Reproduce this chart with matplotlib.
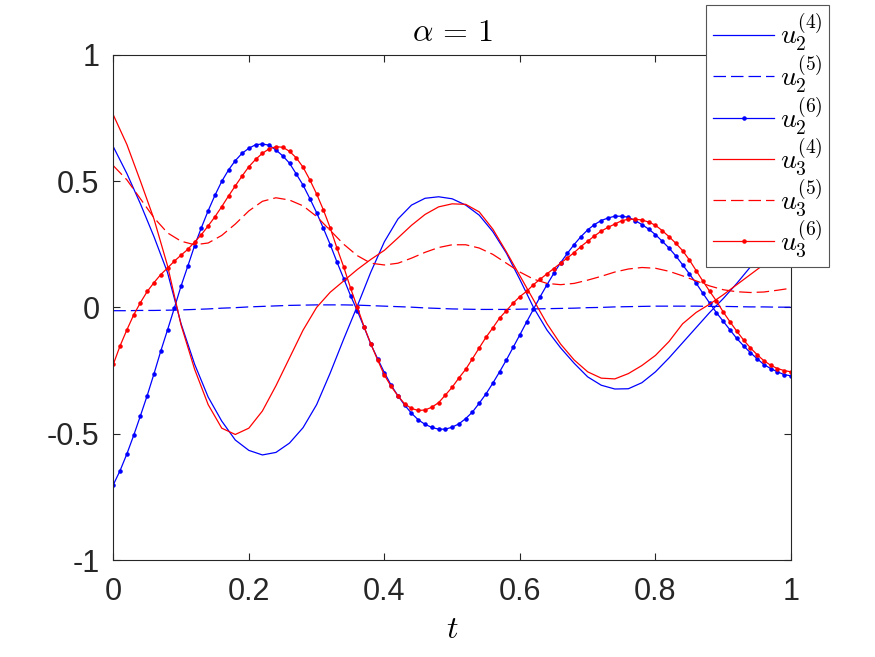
import numpy as np
import matplotlib
matplotlib.use('Agg')
import matplotlib.pyplot as plt

plt.rcParams['font.family'] = ['Liberation Sans', 'DejaVu Sans']
plt.rcParams['mathtext.fontset'] = 'cm'
plt.rcParams['axes.unicode_minus'] = False

# coarse grid for the plain curves, fine grid for the marked ones
t_coarse = np.linspace(0, 1, 51)
t_fine = np.linspace(0, 1, 101)

u2_4 = [0.636, 0.53, 0.41, 0.28, 0.138, -0.065, -0.225, -0.355, -0.45, -0.525,
        -0.566, -0.584, -0.574, -0.537, -0.476, -0.385, -0.26, -0.125, 0.005, 0.14,
        0.26, 0.35, 0.405, 0.432, 0.438, 0.430, 0.405, 0.365, 0.30, 0.215,
        0.11, 0.0, -0.09, -0.16, -0.221, -0.275, -0.308, -0.323, -0.322, -0.298,
        -0.255, -0.20, -0.14, -0.08, -0.02, 0.035, 0.095, 0.16, 0.22, 0.27,
        0.31]
u2_5 = [-0.013, -0.013, -0.012, -0.012, -0.011, -0.010, -0.008, -0.006, -0.003, -0.001,
        0.002, 0.004, 0.006, 0.008, 0.009, 0.010, 0.010, 0.010, 0.009, 0.007,
        0.005, 0.003, 0.001, -0.002, -0.004, -0.006, -0.007, -0.008, -0.008, -0.008,
        -0.007, -0.006, -0.005, -0.004, -0.003, -0.001, 0.0, 0.002, 0.003, 0.004,
        0.005, 0.005, 0.005, 0.005, 0.004, 0.004, 0.003, 0.002, 0.002, 0.001,
        0.001]
u3_4 = [0.762, 0.645, 0.50, 0.35, 0.165, -0.07, -0.245, -0.385, -0.478, -0.503,
        -0.478, -0.41, -0.31, -0.20, -0.09, 0.0, 0.06, 0.105, 0.15, 0.19,
        0.226, 0.275, 0.325, 0.368, 0.398, 0.41, 0.408, 0.378, 0.31, 0.22,
        0.125, 0.03, -0.065, -0.145, -0.208, -0.255, -0.28, -0.283, -0.262, -0.23,
        -0.19, -0.135, -0.065, -0.02, 0.013, 0.05, 0.09, 0.13, 0.17, 0.21,
        0.25]
u3_5 = [0.561, 0.505, 0.43, 0.355, 0.295, 0.262, 0.248, 0.255, 0.285, 0.33,
        0.382, 0.42, 0.434, 0.425, 0.402, 0.36, 0.305, 0.25, 0.205, 0.175,
        0.168, 0.175, 0.195, 0.218, 0.237, 0.248, 0.248, 0.235, 0.21, 0.175,
        0.14, 0.112, 0.095, 0.09, 0.095, 0.108, 0.123, 0.14, 0.152, 0.158,
        0.155, 0.143, 0.125, 0.105, 0.085, 0.07, 0.062, 0.059, 0.061, 0.068,
        0.076]
u2_6 = [-0.702, -0.646, -0.580, -0.507, -0.429, -0.349, -0.263, -0.173, -0.089, -0.003,
        0.085, 0.164, 0.245, 0.316, 0.383, 0.444, 0.499, 0.544, 0.581, 0.610,
        0.630, 0.644, 0.647, 0.642, 0.623, 0.600, 0.571, 0.528, 0.484, 0.431,
        0.375, 0.313, 0.249, 0.180, 0.114, 0.047, -0.013, -0.078, -0.146, -0.203,
        -0.258, -0.308, -0.350, -0.387, -0.419, -0.445, -0.463, -0.475, -0.482, -0.482,
        -0.474, -0.461, -0.440, -0.414, -0.379, -0.342, -0.300, -0.255, -0.208, -0.158,
        -0.108, -0.057, -0.007, 0.043, 0.090, 0.135, 0.177, 0.214, 0.249, 0.280,
        0.307, 0.328, 0.344, 0.354, 0.361, 0.361, 0.357, 0.344, 0.328, 0.310,
        0.288, 0.262, 0.235, 0.204, 0.169, 0.133, 0.096, 0.056, 0.017, -0.021,
        -0.055, -0.089, -0.123, -0.152, -0.179, -0.203, -0.226, -0.242, -0.255, -0.266,
        -0.271]
u3_6 = [-0.225, -0.152, -0.089, -0.030, 0.019, 0.063, 0.098, 0.130, 0.156, 0.183,
        0.207, 0.230, 0.259, 0.288, 0.323, 0.359, 0.399, 0.441, 0.481, 0.520,
        0.557, 0.586, 0.610, 0.628, 0.636, 0.634, 0.618, 0.592, 0.555, 0.505,
        0.449, 0.386, 0.315, 0.235, 0.160, 0.077, 0.001, -0.076, -0.144, -0.208,
        -0.268, -0.313, -0.350, -0.382, -0.400, -0.408, -0.406, -0.395, -0.377, -0.347,
        -0.316, -0.279, -0.245, -0.203, -0.160, -0.118, -0.081, -0.042, -0.013, 0.017,
        0.043, 0.064, 0.090, 0.112, 0.133, 0.154, 0.175, 0.196, 0.217, 0.241,
        0.262, 0.283, 0.302, 0.317, 0.330, 0.343, 0.349, 0.349, 0.346, 0.338,
        0.325, 0.304, 0.280, 0.254, 0.225, 0.188, 0.146, 0.104, 0.064, 0.025,
        -0.018, -0.057, -0.094, -0.129, -0.160, -0.187, -0.211, -0.229, -0.242, -0.250,
        -0.255]

x_ticks = [0, 0.2, 0.4, 0.6, 0.8, 1]
x_labels = ['0', '0.2', '0.4', '0.6', '0.8', '1']
y_ticks = [-1, -0.5, 0, 0.5, 1]
y_labels = ['-1', '-0.5', '0', '0.5', '1']

AX_COL = '#262626'
DASH = (10, 4)

fig = plt.figure(figsize=(8.75, 6.57), dpi=100)
ax = fig.add_axes([0.1295, 0.1476, 0.7745, 0.769])

lw = 0.9
ax.plot(t_coarse, u2_4, color='blue', lw=lw, label=r'$u_2^{(4)}$')
ax.plot(t_coarse, u2_5, color='blue', lw=lw, dashes=DASH, label=r'$u_2^{(5)}$')
ax.plot(t_fine, u2_6, color='blue', lw=lw, marker='.', ms=4.5, label=r'$u_2^{(6)}$')
ax.plot(t_coarse, u3_4, color='red', lw=lw, label=r'$u_3^{(4)}$')
ax.plot(t_coarse, u3_5, color='red', lw=lw, dashes=DASH, label=r'$u_3^{(5)}$')
ax.plot(t_fine, u3_6, color='red', lw=lw, marker='.', ms=4.5, label=r'$u_3^{(6)}$')

ax.set_xlim(0, 1)
ax.set_ylim(-1, 1)
ax.set_xticks(x_ticks, x_labels)
ax.set_yticks(y_ticks, y_labels)
ax.tick_params(direction='in', length=5, width=0.8, colors=AX_COL,
               labelsize=22, top=True, right=True, pad=12)
ax.tick_params(axis='y', pad=10)
for sp in ax.spines.values():
    sp.set_color(AX_COL)
    sp.set_linewidth(0.8)

ax.set_title(r'$\alpha\,=\,1$', fontsize=23, pad=10)
ax.set_xlabel(r'$t$', fontsize=23, labelpad=6)

leg = ax.legend(loc='upper left', bbox_to_anchor=(0.8069, 0.9928),
                bbox_transform=fig.transFigure, fontsize=20, frameon=True,
                fancybox=False, framealpha=1, edgecolor='#555555',
                borderaxespad=0, borderpad=0.25, handlelength=2.2,
                handletextpad=0.2, labelspacing=0.0, numpoints=1)
leg.get_frame().set_linewidth(0.8)

fig.savefig('out.png', dpi=100)
